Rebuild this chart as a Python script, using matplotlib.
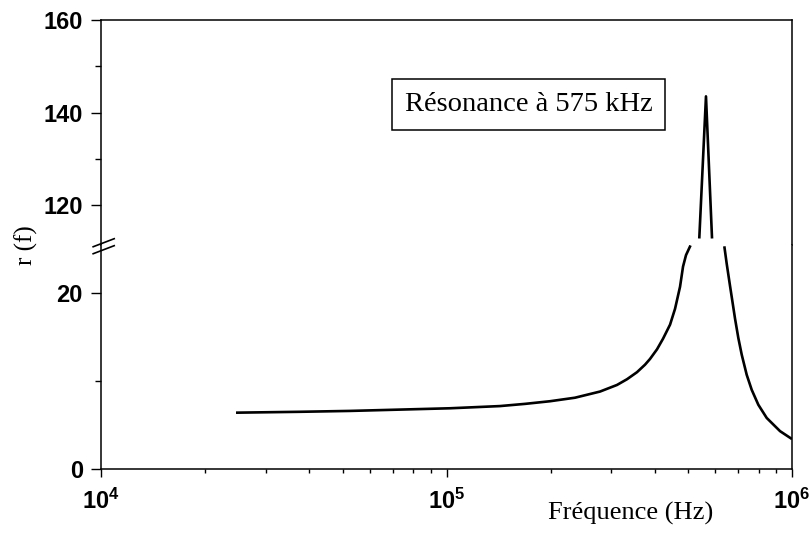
import numpy as np
import matplotlib
matplotlib.use('Agg')
import matplotlib.pyplot as plt
from matplotlib.lines import Line2D
from matplotlib.ticker import LogLocator, FixedLocator, LogFormatterSciNotation

# Data (frequency in Hz, r(f))
freq_rise = [24590, 37670, 52570, 73360, 102350, 142830, 168750, 199340,
             235430, 278200, 311520, 333000, 355900, 375400, 388100, 406700,
             423300, 443600, 458600, 474100, 483700, 493400, 508400]
r_rise = [6.4, 6.5, 6.6, 6.75, 6.9, 7.15, 7.4, 7.7,
          8.1, 8.8, 9.55, 10.2, 11.0, 11.85, 12.5, 13.6,
          14.8, 16.4, 18.2, 20.7, 23.0, 24.3, 25.4]

freq_peak = [539000, 563600, 586800]
r_peak = [112.8, 143.5, 112.8]

freq_fall = [636900, 647200, 661600, 673600, 683900, 699100, 715100, 739400,
             764400, 798900, 844800, 923400, 1000000]
r_fall = [25.3, 23.3, 20.8, 18.8, 17.1, 14.9, 13.0, 10.7,
          9.0, 7.3, 5.8, 4.3, 3.4]

upper_ticks = [120, 140, 160]
upper_minor = [130, 150]
lower_ticks = [0, 20]
lower_minor = [10]

# Setup figure
fig = plt.figure(figsize=(8.1, 5.37), dpi=100)
ax_hi = fig.add_axes([0.1247, 0.5438, 0.8531, 0.4190])
ax_lo = fig.add_axes([0.1247, 0.1266, 0.8531, 0.4172])

tick_font = dict(family='Liberation Sans', weight='bold', size=17)
serif = 'Liberation Serif'
lw_curve = 1.9
lw_spine = 1.1

for ax in (ax_hi, ax_lo):
    ax.set_xscale('log')
    ax.set_xlim(1e4, 1e6)
    for fx, fy in ((freq_rise, r_rise), (freq_peak, r_peak), (freq_fall, r_fall)):
        ax.plot(fx, fy, color='black', lw=lw_curve, solid_capstyle='butt',
                solid_joinstyle='round')
    for sp in ax.spines.values():
        sp.set_linewidth(lw_spine)
    ax.tick_params(axis='y', which='major', direction='out', length=7, width=1.0, pad=6)
    ax.tick_params(axis='y', which='minor', direction='out', length=4, width=1.0)

# Upper part (above the break)
ax_hi.set_ylim(111.4, 160)
ax_hi.yaxis.set_major_locator(FixedLocator(upper_ticks))
ax_hi.yaxis.set_minor_locator(FixedLocator(upper_minor))
ax_hi.spines['bottom'].set_visible(False)
ax_hi.tick_params(axis='x', which='both', bottom=False, labelbottom=False)

# Lower part (below the break)
ax_lo.set_ylim(0, 25.45)
ax_lo.yaxis.set_major_locator(FixedLocator(lower_ticks))
ax_lo.yaxis.set_minor_locator(FixedLocator(lower_minor))
ax_lo.spines['top'].set_visible(False)
ax_lo.xaxis.set_major_locator(LogLocator(base=10, numticks=5))
ax_lo.xaxis.set_minor_locator(LogLocator(base=10, subs=np.arange(2, 10), numticks=12))
ax_lo.xaxis.set_major_formatter(LogFormatterSciNotation())
ax_lo.tick_params(axis='x', which='major', direction='out', length=6, width=1.0, pad=8)
ax_lo.tick_params(axis='x', which='minor', direction='out', length=3, width=1.0)

for ax in (ax_hi, ax_lo):
    for lab in ax.get_yticklabels() + ax.get_xticklabels():
        lab.set(**tick_font)

# Axis break marks on the left spine
for dy in (0.0, 0.013):
    fig.add_artist(Line2D([0.115, 0.141], [0.5365 - dy + 0.004, 0.5515 - dy + 0.004],
                          color='black', lw=1.2, transform=fig.transFigure))

# Labels
fig.text(0.033, 0.5438, 'r (f)', rotation=90, ha='center', va='center',
         family=serif, fontsize=18)
fig.text(0.88, 0.032, 'Fréquence (Hz)', ha='right', va='baseline',
         family=serif, fontsize=19)

# Annotation box
ax_hi.text(0.619, 0.624, 'Résonance à 575 kHz', transform=ax_hi.transAxes,
           ha='center', va='center', family=serif, fontsize=20.5,
           bbox=dict(boxstyle='square,pad=0.45', facecolor='white', edgecolor='black', lw=1.1))

plt.savefig('out.png', dpi=100)
plt.close()
